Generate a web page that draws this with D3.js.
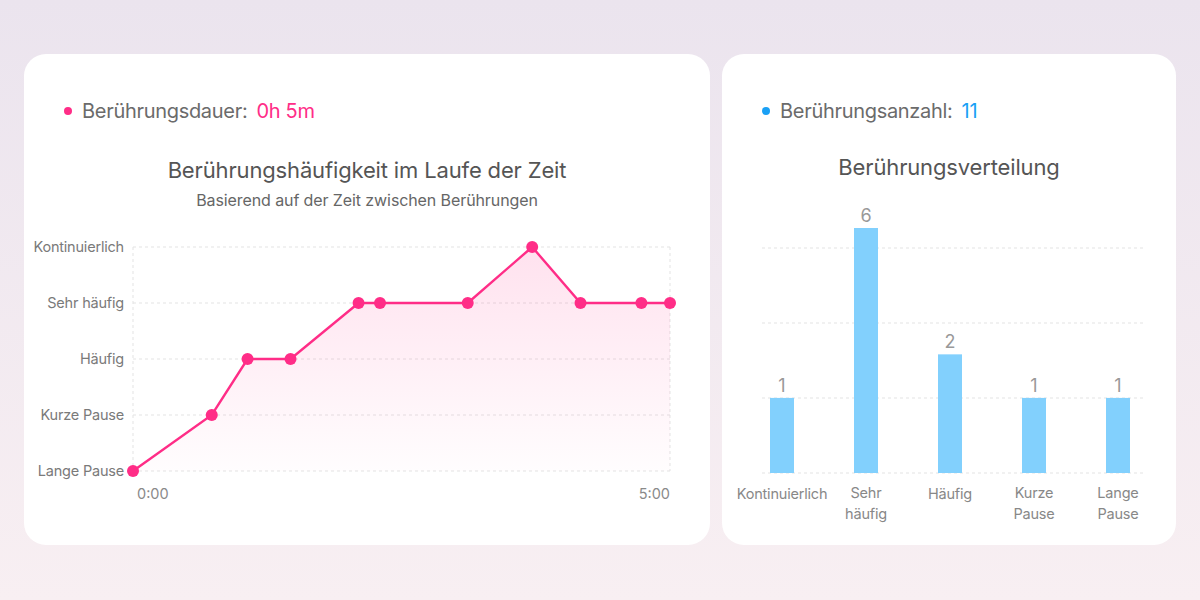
<!DOCTYPE html>
<html>
<head>
<meta charset="utf-8">
<script src="https://cdn.jsdelivr.net/npm/d3@7"></script>
<style>
  html, body { margin: 0; padding: 0; }
  body { width: 1200px; height: 600px; overflow: hidden; font-family: Inter, "Noto Sans", sans-serif; }
</style>
</head>
<body>
<svg id="chart" width="1200" height="600"></svg>
<script>
// level names, lowest first
const levels = ["Lange Pause", "Kurze Pause", "Häufig", "Sehr häufig", "Kontinuierlich"];
// touch times in seconds and their level index
const times = [0, 44, 64, 88, 126, 138, 187, 223, 250, 284, 300];
const levelIdx = [0, 1, 2, 2, 3, 3, 3, 4, 3, 3, 3];
const timeTicks = [0, 300];
const timeTickLabels = ["0:00", "5:00"];

// distribution
const barCats = ["Kontinuierlich", "Sehr häufig", "Häufig", "Kurze Pause", "Lange Pause"];
const barLabelLines = [["Kontinuierlich"], ["Sehr", "häufig"], ["Häufig"], ["Kurze", "Pause"], ["Lange", "Pause"]];
const barCounts = [1, 6, 2, 1, 1];

const durationText = "0h 5m";
const countText = "11";

const pink = "#ff2d87", blue = "#1aa0f5", barColor = "#82d0fd";

const svg = d3.select("#chart");
const defs = svg.append("defs");

const bg = defs.append("linearGradient").attr("id", "bg")
    .attr("x1", 0).attr("y1", 0).attr("x2", 0).attr("y2", 1);
bg.append("stop").attr("offset", "0%").attr("stop-color", "#ebe4ee");
bg.append("stop").attr("offset", "100%").attr("stop-color", "#f8eff2");

const areaGrad = defs.append("linearGradient").attr("id", "areaGrad")
    .attr("x1", 0).attr("y1", 0).attr("x2", 0).attr("y2", 1);
areaGrad.append("stop").attr("offset", "0%").attr("stop-color", pink).attr("stop-opacity", 0.14);
areaGrad.append("stop").attr("offset", "100%").attr("stop-color", pink).attr("stop-opacity", 0.01);

svg.append("rect").attr("width", 1200).attr("height", 600).attr("fill", "url(#bg)");

// cards
svg.append("rect").attr("x", 24).attr("y", 54).attr("width", 686).attr("height", 491)
    .attr("rx", 22).attr("fill", "#fff");
svg.append("rect").attr("x", 722).attr("y", 54).attr("width", 454).attr("height", 491)
    .attr("rx", 22).attr("fill", "#fff");

// headers
function header(x, label, value, color) {
    svg.append("circle").attr("cx", x).attr("cy", 111).attr("r", 4).attr("fill", color);
    const t = svg.append("text").attr("x", x + 14).attr("y", 118)
        .attr("font-size", 20).attr("letter-spacing", -0.3).attr("fill", "#6b6b6b");
    t.append("tspan").text(label);
    t.append("tspan").attr("dx", 9).attr("fill", color).text(value);
}
header(68, "Berührungsdauer:", durationText, pink);
header(766, "Berührungsanzahl:", countText, blue);

svg.append("text").attr("x", 367).attr("y", 178).attr("text-anchor", "middle")
    .attr("font-size", 22).attr("letter-spacing", -0.15).attr("fill", "#555")
    .text("Berührungshäufigkeit im Laufe der Zeit");
svg.append("text").attr("x", 367).attr("y", 206).attr("text-anchor", "middle")
    .attr("font-size", 16).attr("letter-spacing", -0.1).attr("fill", "#666")
    .text("Basierend auf der Zeit zwischen Berührungen");
svg.append("text").attr("x", 949).attr("y", 175).attr("text-anchor", "middle")
    .attr("font-size", 22).attr("letter-spacing", -0.15).attr("fill", "#555")
    .text("Berührungsverteilung");

// ---- line chart
const x = d3.scaleLinear().domain([0, 300]).range([133, 670]);
const y = d3.scaleLinear().domain([0, levels.length - 1]).range([471, 247]);

const lc = svg.append("g");
lc.append("g").selectAll("line").data(levels).join("line")
    .attr("x1", 133).attr("x2", 670)
    .attr("y1", (d, i) => y(i)).attr("y2", (d, i) => y(i))
    .attr("stroke", "#e3e3e3").attr("stroke-dasharray", "3,3");
lc.append("g").selectAll("line").data(timeTicks).join("line")
    .attr("x1", d => x(d)).attr("x2", d => x(d))
    .attr("y1", y(4)).attr("y2", y(0))
    .attr("stroke", "#e3e3e3").attr("stroke-dasharray", "3,3");

lc.append("g").selectAll("text").data(levels).join("text")
    .attr("x", 124).attr("y", (d, i) => y(i) + 5)
    .attr("text-anchor", "end").attr("font-size", 14.5).attr("letter-spacing", -0.2)
    .attr("fill", "#7a7a7a")
    .text(d => d);

lc.append("g").selectAll("text").data(timeTicks).join("text")
    .attr("x", (d, i) => i === 0 ? x(d) + 4 : x(d))
    .attr("y", 499)
    .attr("text-anchor", (d, i) => i === 0 ? "start" : "end")
    .attr("font-size", 14.5).attr("fill", "#8a8a8a")
    .text((d, i) => timeTickLabels[i]);

const pts = times.map((t, i) => [t, levelIdx[i]]);
lc.append("path").datum(pts)
    .attr("fill", "url(#areaGrad)")
    .attr("d", d3.area().x(d => x(d[0])).y0(y(0)).y1(d => y(d[1])));
lc.append("path").datum(pts)
    .attr("fill", "none").attr("stroke", pink).attr("stroke-width", 2.4)
    .attr("d", d3.line().x(d => x(d[0])).y(d => y(d[1])));
lc.append("g").selectAll("circle").data(pts).join("circle")
    .attr("cx", d => x(d[0])).attr("cy", d => y(d[1]))
    .attr("r", 6).attr("fill", pink);

// ---- bar chart
const bx = d3.scalePoint().domain(barCats).range([782, 1118]);
const by = d3.scalePow().exponent(0.66).domain([0, 6]).range([473, 228]);
const grid = d3.scaleLinear().domain([0, 3]).range([473, 248]);

const bc = svg.append("g");
bc.append("g").selectAll("line").data(grid.ticks(3)).join("line")
    .attr("x1", 762).attr("x2", 1145)
    .attr("y1", d => grid(d)).attr("y2", d => grid(d))
    .attr("stroke", "#e3e3e3").attr("stroke-dasharray", "3,3");

bc.append("g").selectAll("rect").data(barCounts).join("rect")
    .attr("x", (d, i) => bx(barCats[i]) - 12).attr("width", 24)
    .attr("y", d => by(d)).attr("height", d => by(0) - by(d))
    .attr("fill", barColor);

bc.append("g").selectAll("text").data(barCounts).join("text")
    .attr("x", (d, i) => bx(barCats[i])).attr("y", d => by(d) - 6)
    .attr("text-anchor", "middle").attr("font-size", 18).attr("fill", "#999")
    .text(d => d);

bc.append("g").selectAll("text").data(barLabelLines).join("text")
    .attr("x", (d, i) => bx(barCats[i]))
    .attr("y", d => d.length > 1 ? 498 : 499)
    .attr("text-anchor", "middle").attr("font-size", 14.5).attr("letter-spacing", -0.2)
    .attr("fill", "#888")
    .each(function (lines) {
        d3.select(this).selectAll("tspan").data(lines).join("tspan")
            .attr("x", d3.select(this).attr("x"))
            .attr("dy", (l, j) => j === 0 ? 0 : 21)
            .text(l => l);
    });
</script>
</body>
</html>
